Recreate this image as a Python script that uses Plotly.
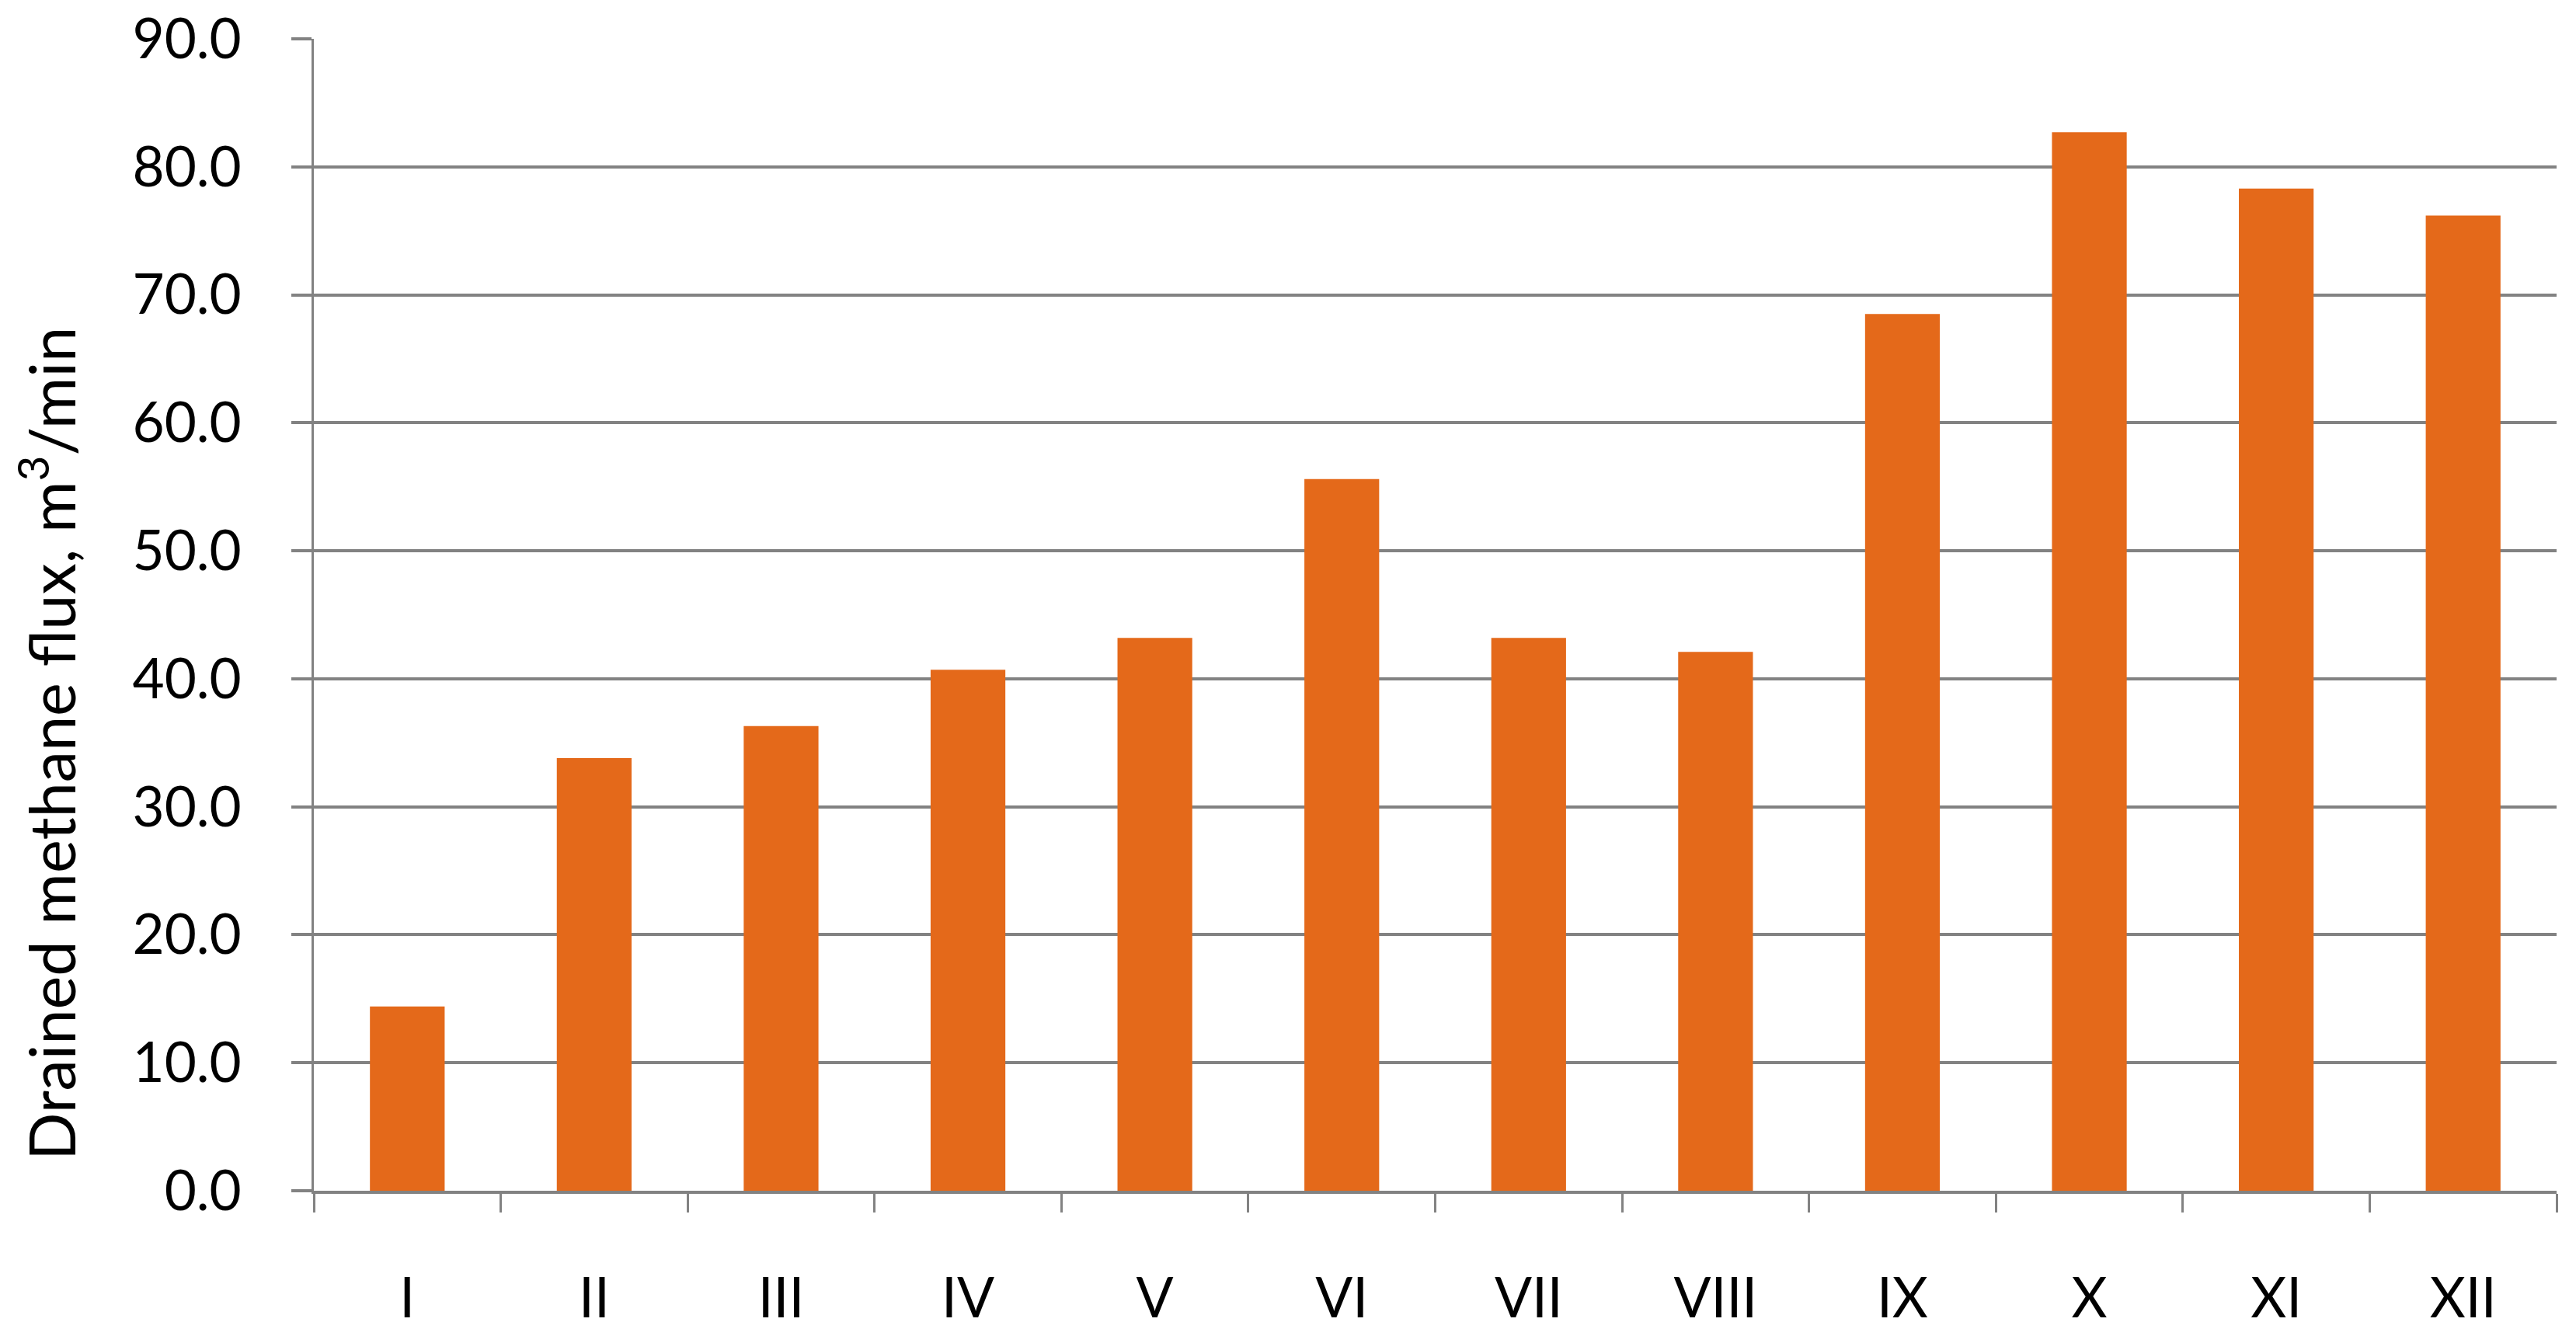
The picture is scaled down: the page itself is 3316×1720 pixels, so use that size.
import plotly.graph_objs as go

months = ['I', 'II', 'III', 'IV', 'V', 'VI', 'VII', 'VIII', 'IX', 'X', 'XI', 'XII']
flux = [14.4, 33.8, 36.3, 40.7, 43.2, 55.6, 43.2, 42.1, 68.5, 82.7, 78.3, 76.2]
y_ticks = [0, 10, 20, 30, 40, 50, 60, 70, 80, 90]

bar_color = '#E4691A'
grid_color = '#828282'

fig = go.Figure()
fig.add_trace(
    go.Bar(
        x = months,
        y = flux,
        marker = dict(color=bar_color, line=dict(width=0)),
        width = 0.4,
    )
)

fig.update_layout(
    width = 3316,
    height = 1720,
    plot_bgcolor = 'white',
    paper_bgcolor = 'white',
    showlegend = False,
    margin = dict(l=396, r=33, t=42, b=195),
    font = dict(family='Lato, Noto Sans, sans-serif', size=71, color='black'),
)

fig.update_xaxes(
    type = 'category',
    showline = True,
    linecolor = grid_color,
    linewidth = 4,
    ticks = 'outside',
    tickson = 'boundaries',
    ticklen = 24,
    tickwidth = 3,
    tickcolor = grid_color,
    ticklabelstandoff = 74,
    showgrid = False,
    automargin = False,
    tickfont = dict(size=71),
)

# automargin off so the top label does not push the plot down
fig.update_yaxes(
    range = [0, 90],
    tickvals = y_ticks,
    tickformat = '.1f',
    showgrid = True,
    gridcolor = grid_color,
    gridwidth = 4,
    showline = True,
    linecolor = grid_color,
    linewidth = 3,
    ticks = 'outside',
    ticklen = 26,
    tickwidth = 4,
    tickcolor = grid_color,
    ticklabelstandoff = 50,
    ticklabeloverflow = 'allow',
    automargin = False,
    zeroline = False,
    tickfont = dict(size=71),
)

# y title sits a bit below the plot centre in the original
fig.add_annotation(
    text = 'Drained methane flux, m<sup>3</sup>/min',
    xref = 'paper', yref = 'paper',
    x = -0.119, y = 0.388,
    xanchor = 'center', yanchor = 'middle',
    textangle = -90,
    showarrow = False,
    font = dict(size=81, color='black'),
)

fig.write_html("out.html")
